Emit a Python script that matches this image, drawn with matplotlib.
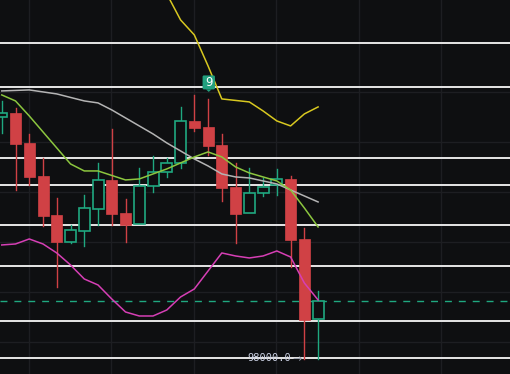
import matplotlib
matplotlib.use("Agg")
import matplotlib.pyplot as plt
from matplotlib.patches import Rectangle, FancyBboxPatch, Polygon

# ---- data ----
opens  = [100410, 100450, 100150, 99820, 99430, 99160, 99270, 99490, 99780, 99450, 99340, 99720,
          99860, 99950, 100370, 100310, 100130, 99710, 99450, 99650, 99730, 99790, 99190, 98390]
highs  = [100570, 100500, 100240, 100000, 99600, 99330, 99630, 99950, 100290, 99590, 99900, 100020,
          100000, 100510, 100630, 100590, 100240, 99950, 99900, 99800, 99890, 99820, 99300, 98670]
lows   = [100250, 99680, 99730, 99320, 98710, 99150, 99120, 99330, 99330, 99160, 99340, 99660,
          99810, 99900, 100270, 100030, 99570, 99150, 99450, 99620, 99630, 98910, 97990, 97990]
closes = [100450, 100140, 99810, 99420, 99160, 99280, 99500, 99780, 99440, 99330, 99720, 99860,
          99950, 100370, 100300, 100120, 99700, 99440, 99650, 99710, 99790, 99180, 98380, 98570]

ma_green = [100630, 100570, 100420, 100260, 100100, 99940, 99870, 99870, 99825, 99780, 99790, 99840,
            99890, 99950, 100010, 100060, 100010, 99910, 99850, 99810, 99770, 99680, 99500, 99310]
ma_gray = [100670, 100675, 100680, 100660, 100640, 100605, 100570, 100550, 100480, 100400, 100320, 100240,
           100150, 100070, 99990, 99920, 99840, 99810, 99800, 99770, 99740, 99680, 99620, 99560]
ma_magenta = [99130, 99140, 99190, 99140, 99050, 98930, 98790, 98730, 98590, 98460, 98420, 98420,
              98480, 98610, 98690, 98870, 99050, 99020, 99000, 99020, 99070, 99010, 98750, 98580]
yellow_start = 12
ma_yellow = [101640, 101380, 101230, 100920, 100590, 100575, 100560, 100470, 100370, 100320, 100440, 100510]

level_lines = [101150, 100710, 100000, 99730, 99330, 98920, 98370, 98000]
last_price = 98570
grid_prices = [101160, 100660, 100160, 99660, 99160, 98660, 98160]
grid_idx = [1.95, 7.95, 13.95, 19.95, 25.95, 31.95]
marker_idx = 15
marker_text = "9"
label_text = "98000.0"
label_arrow = "\u2192"
label_price = 98000

# ---- style ----
BG = "#0e0f11"
GRID = "#1d1e22"
RED = "#d04145"
TEAL = "#1fa880"

fig = plt.figure(figsize=(5.101, 3.741), dpi=100, facecolor=BG)
ax = fig.add_axes([0, 0, 1, 1])
ax.set_facecolor(BG)
ax.set_xlim(-0.127, 36.96)
ax.set_ylim(97840, 101580)
ax.axis("off")

for g in grid_idx:
    ax.axvline(g, color=GRID, lw=1.0, zorder=0)
for g in grid_prices:
    ax.axhline(g, color=GRID, lw=1.0, zorder=0)

for lv in level_lines:
    ax.axhline(lv, color="#e6e6e6", lw=1.4, zorder=1)

ax.axhline(last_price, color=TEAL, lw=1.0, ls=(0, (5, 5)), zorder=1)

w = 0.8
for i, (o, h, l, c) in enumerate(zip(opens, highs, lows, closes)):
    up = c >= o
    col = TEAL if up else RED
    lo_b, hi_b = min(o, c), max(o, c)
    if up:
        ax.plot([i, i], [hi_b, h], color=col, lw=1.0, zorder=3)
        ax.plot([i, i], [l, lo_b], color=col, lw=1.0, zorder=3)
        ax.add_patch(Rectangle((i - w / 2, lo_b), w, hi_b - lo_b, facecolor=BG,
                               edgecolor=col, lw=1.2, zorder=4))
    else:
        ax.plot([i, i], [l, h], color=col, lw=1.0, zorder=3)
        ax.add_patch(Rectangle((i - w / 2, lo_b), w, hi_b - lo_b, facecolor=col,
                               edgecolor=col, lw=0.5, zorder=4))

x_all = list(range(len(closes)))
ax.plot(x_all, ma_gray, color="#b4b4b4", lw=1.1, zorder=5)
ax.plot(x_all, ma_green, color="#8cc63f", lw=1.1, zorder=5)
ax.plot(x_all, ma_magenta, color="#d63fb5", lw=1.1, zorder=5)
ax.plot(range(yellow_start, yellow_start + len(ma_yellow)), ma_yellow, color="#d8c820", lw=1.1, zorder=5)

# marker "9"
mx = marker_idx + 0.05
my = 100730
ax.add_patch(FancyBboxPatch((mx - 0.45, my - 45), 0.9, 140, boxstyle="round,pad=0,rounding_size=0.1",
                            mutation_aspect=150, facecolor="#22a07e", edgecolor="none", zorder=6))
ax.add_patch(Polygon([[mx - 0.2, my - 45], [mx + 0.2, my - 45], [mx, my - 70]],
                     closed=True, facecolor="#22a07e", edgecolor="none", zorder=6))
ax.text(mx, my + 25, marker_text, color="white", fontsize=8.5, ha="center", va="center", zorder=7)

ax.text(17.85, label_price + 5, label_text, color="#c8cee0", fontsize=7.5,
        family="DejaVu Sans Mono", ha="left", va="center", zorder=7)
ax.text(21.15, label_price - 15, label_arrow, color="#9aa0ad", fontsize=8,
        family="DejaVu Sans", ha="left", va="center", zorder=7)

fig.savefig("out.png", dpi=100, facecolor=BG)
